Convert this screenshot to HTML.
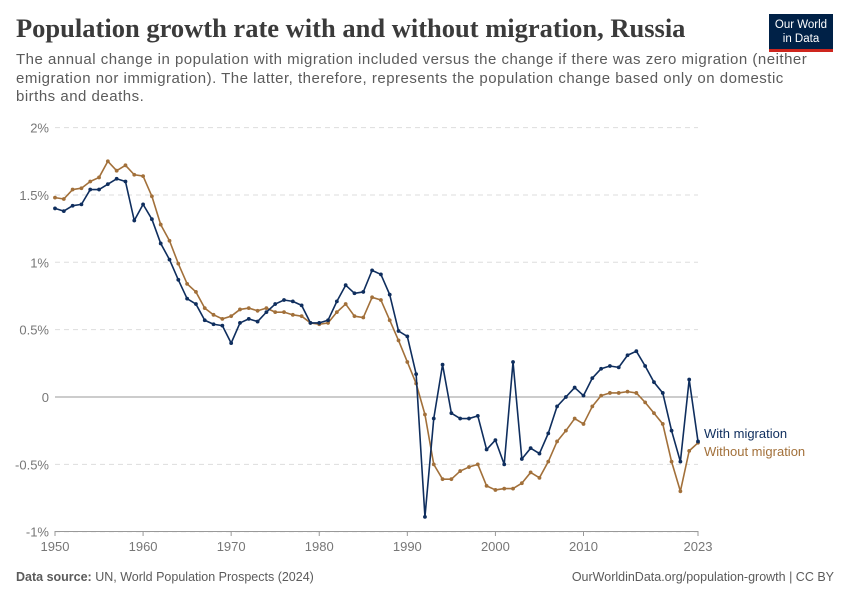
<!DOCTYPE html>
<html><head><meta charset="utf-8">
<style>
body{margin:0;background:#fff;width:850px;height:600px;overflow:hidden;font-family:"Liberation Sans",sans-serif;position:relative}
#title{position:absolute;left:16px;top:13px;font-family:"Liberation Serif",serif;font-weight:bold;font-size:26.5px;color:#3b3b3b;margin:0}
#sub{position:absolute;left:16px;top:51px;width:812px;font-size:15px;letter-spacing:0.5px;line-height:18.5px;color:#5b5b5b}
#logo{position:absolute;left:769px;top:14px;width:64px;height:38px;background:#002147;color:#fff;font-size:11.5px;text-align:center;line-height:14px;padding-top:4px;box-sizing:border-box;border-bottom:3px solid #ce261e}
.foot{position:absolute;top:570px;font-size:12.5px;color:#5b5b5b}
svg text{font-family:"Liberation Sans",sans-serif}
</style></head><body>
<h1 id="title">Population growth rate with and without migration, Russia</h1>
<div id="sub">The annual change in population with migration included versus the change if there was zero migration (neither emigration nor immigration). The latter, therefore, represents the population change based only on domestic births and deaths.</div>
<div id="logo">Our World<br>in Data</div>
<svg id="chart" width="850" height="600" style="position:absolute;left:0;top:0"></svg>
<div class="foot" style="left:16px"><b>Data source:</b> UN, World Population Prospects (2024)</div>
<div class="foot" style="right:16px">OurWorldinData.org/population-growth | CC BY</div>
<script>
const years=[];for(let y=1950;y<=2023;y++)years.push(y);
const withMigration=[1.40,1.38,1.42,1.43,1.54,1.54,1.58,1.62,1.60,1.31,1.43,1.32,1.14,1.02,0.87,0.73,0.69,0.57,0.54,0.53,0.40,0.55,0.58,0.56,0.63,0.69,0.72,0.71,0.68,0.55,0.55,0.57,0.71,0.83,0.77,0.78,0.94,0.91,0.76,0.49,0.45,0.17,-0.89,-0.16,0.24,-0.12,-0.16,-0.16,-0.14,-0.39,-0.32,-0.50,0.26,-0.46,-0.38,-0.42,-0.27,-0.07,0.00,0.07,0.01,0.14,0.21,0.23,0.22,0.31,0.34,0.23,0.11,0.03,-0.25,-0.48,0.13,-0.33];
const withoutMigration=[1.48,1.47,1.54,1.55,1.60,1.63,1.75,1.68,1.72,1.65,1.64,1.49,1.28,1.16,0.99,0.84,0.78,0.66,0.61,0.58,0.60,0.65,0.66,0.64,0.66,0.63,0.63,0.61,0.60,0.55,0.54,0.55,0.63,0.69,0.60,0.59,0.74,0.72,0.57,0.42,0.26,0.10,-0.13,-0.50,-0.61,-0.61,-0.55,-0.52,-0.50,-0.66,-0.69,-0.68,-0.68,-0.64,-0.56,-0.60,-0.48,-0.33,-0.25,-0.16,-0.20,-0.07,0.01,0.03,0.03,0.04,0.03,-0.04,-0.12,-0.20,-0.48,-0.70,-0.40,-0.34];
const yTicks=[-1,-0.5,0,0.5,1,1.5,2];
const yTickLabels=["-1%","-0.5%","0","0.5%","1%","1.5%","2%"];
const xTicks=[1950,1960,1970,1980,1990,2000,2010,2023];
const svg=document.getElementById('chart');const NS='http://www.w3.org/2000/svg';
const x=v=>55+(v-1950)*(698-55)/73;
const y=v=>397-v*134.7;
function mk(t,a,p){const e=document.createElementNS(NS,t);for(const k in a)e.setAttribute(k,a[k]);(p||svg).appendChild(e);return e;}
yTicks.forEach((t,i)=>{
 const l=mk('line',{x1:55,x2:698,y1:y(t),y2:y(t),stroke:t===0?'#999':'#ddd','stroke-dasharray':t===0?'':'5,4','stroke-width':1});
 
 
 const tx=mk('text',{x:49,y:y(t)+5,'text-anchor':'end','font-size':13,fill:'#777'});tx.textContent=yTickLabels[i];
 
 
});
const ax=mk('line',{x1:55,x2:698,y1:531.5,y2:531.5,stroke:'#999'});


xTicks.forEach(t=>{
 const tk=mk('line',{x1:x(t),x2:x(t),y1:531,y2:536,stroke:'#999'});
 
 
 const tx=mk('text',{x:x(t),y:551,'text-anchor':'middle','font-size':13,fill:'#777'});tx.textContent=t;
 
 
});
function series(vals,color,name){
 const g=mk('g',{});
 
 
 const p=mk('polyline',{points:vals.map((v,i)=>x(years[i])+','+y(v)).join(' '),fill:'none',stroke:color,'stroke-width':1.6,'stroke-linejoin':'round'},g);
 
 
 vals.forEach((v,i)=>{const c=mk('circle',{cx:x(years[i]),cy:y(v),r:1.9,fill:color},g);
  
  });
}
series(withoutMigration,'#a2703a','without-migration');
series(withMigration,'#0f2e5e','with-migration');
const l1=mk('text',{x:704,y:438,'font-size':13,fill:'#0f2e5e'});l1.textContent='With migration';


const l2=mk('text',{x:704,y:456,'font-size':13,fill:'#a2703a'});l2.textContent='Without migration';


</script>
</body></html>
